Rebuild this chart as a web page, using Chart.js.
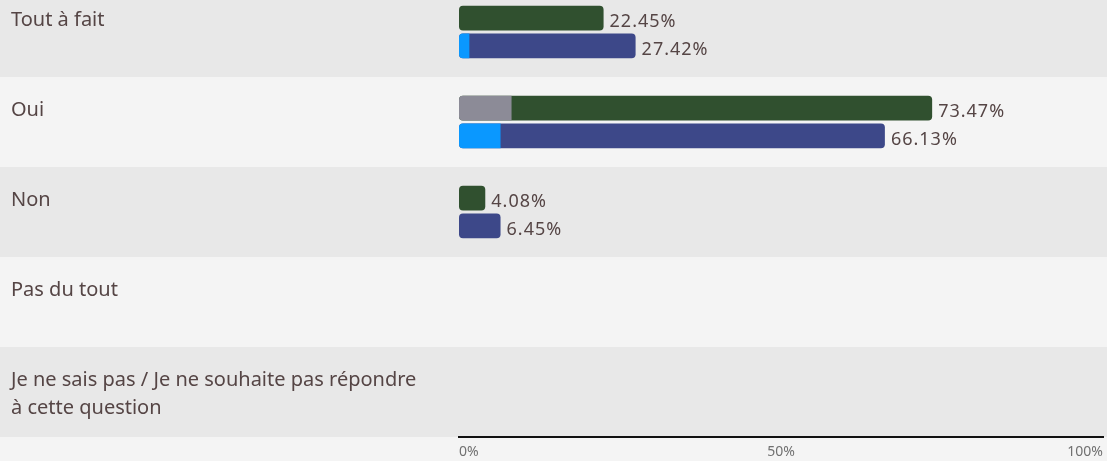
<!DOCTYPE html>
<html>
<head>
<meta charset="utf-8">
<script src="https://cdn.jsdelivr.net/npm/chart.js@4"></script>
<style>
  html, body { margin: 0; padding: 0; background: #f4f4f4; overflow: hidden; }
  #wrap { position: relative; width: 1107px; height: 474px; margin-top: -13px; }
</style>
</head>
<body>
<div id="wrap"><canvas id="chart" width="1107" height="474"></canvas></div>
<script>
const categories = [
  'Tout à fait',
  'Oui',
  'Non',
  'Pas du tout',
  ['Je ne sais pas / Je ne souhaite pas répondre', 'à cette question'],
];
// full share per answer, two groups
const greenValues = [22.45, 73.47, 4.08, 0, 0];
const blueValues = [27.42, 66.13, 6.45, 0, 0];
// lighter part shown at the start of each bar
const greenPart = [0, 8.16, 0, 0, 0];
const bluePart = [1.61, 6.45, 0, 0, 0];
const xTicks = [0, 50, 100];

const TEXT = '#554545';
const FONT = '"Noto Sans", sans-serif';
const partColors = ['#8c8b97', '#0a98ff'];
const partValues = [greenPart, bluePart];

function roundLeft(ctx, x0, y0, w, h, r) {
  ctx.beginPath();
  ctx.moveTo(x0 + r, y0);
  ctx.lineTo(x0 + w, y0);
  ctx.lineTo(x0 + w, y0 + h);
  ctx.lineTo(x0 + r, y0 + h);
  ctx.arcTo(x0, y0 + h, x0, y0 + h - r, r);
  ctx.lineTo(x0, y0 + r);
  ctx.arcTo(x0, y0, x0 + r, y0, r);
  ctx.closePath();
  ctx.fill();
}

const rowsPlugin = {
  id: 'rows',
  beforeDraw(chart) {
    const { ctx, scales: { y } } = chart;
    const step = y.height / categories.length;
    ctx.save();
    categories.forEach((_, i) => {
      const top = y.getPixelForValue(i) - step / 2;
      ctx.fillStyle = i % 2 === 0 ? '#e8e8e8' : '#f4f4f4';
      ctx.fillRect(0, top, chart.width, step);
    });
    ctx.restore();
  },
  afterDatasetsDraw(chart) {
    const { ctx, scales: { x } } = chart;
    ctx.save();
    // lighter segment at the start of the bars
    [0, 1].forEach((di) => {
      chart.getDatasetMeta(di).data.forEach((bar, i) => {
        const v = partValues[di][i];
        if (!v) return;
        const x0 = x.getPixelForValue(0);
        const x1 = x.getPixelForValue(v);
        ctx.fillStyle = partColors[di];
        roundLeft(ctx, x0, bar.y - bar.height / 2, x1 - x0, bar.height, 4);
      });
    });
    ctx.restore();
  },
  afterDraw(chart) {
    const { ctx, scales: { x, y } } = chart;
    const step = y.height / categories.length;
    ctx.save();
    // category labels, top-left of each row
    ctx.font = '20px ' + FONT;
    ctx.fillStyle = TEXT;
    ctx.textBaseline = 'top';
    ctx.textAlign = 'left';
    categories.forEach((c, i) => {
      const top = y.getPixelForValue(i) - step / 2;
      const lines = Array.isArray(c) ? c : [c];
      lines.forEach((l, j) => ctx.fillText(l, 11, top + 23 + j * 28));
    });
    // value labels after each bar
    ctx.font = '18px ' + FONT;
    ctx.letterSpacing = '1px';
    ctx.textBaseline = 'middle';
    [0, 1].forEach((di) => {
      const ds = chart.data.datasets[di];
      chart.getDatasetMeta(di).data.forEach((bar, i) => {
        const v = ds.data[i];
        if (!v) return;
        ctx.fillText(v.toFixed(2) + '%', bar.x + 6, bar.y + 4);
      });
    });
    ctx.letterSpacing = '0px';
    // x-axis tick labels
    ctx.font = '14px ' + FONT;
    ctx.fillStyle = '#707070';
    ctx.textBaseline = 'top';
    xTicks.forEach((t, i) => {
      ctx.textAlign = i === 0 ? 'left' : i === xTicks.length - 1 ? 'right' : 'center';
      ctx.fillText(t + '%', x.getPixelForValue(t), y.bottom + 8);
    });
    ctx.restore();
  },
};

new Chart(document.getElementById('chart').getContext('2d'), {
  type: 'bar',
  data: {
    labels: categories,
    datasets: [
      {
        label: 'Groupe 1',
        data: greenValues,
        backgroundColor: '#30502f',
        borderRadius: 4,
        borderSkipped: false,
      },
      {
        label: 'Groupe 2',
        data: blueValues,
        backgroundColor: '#3d4889',
        borderRadius: 4,
        borderSkipped: false,
      },
    ],
  },
  options: {
    indexAxis: 'y',
    responsive: false,
    animation: false,
    datasets: {
      bar: { categoryPercentage: 0.62, barPercentage: 0.89 },
    },
    layout: { padding: { left: 459, right: 4, top: 0, bottom: 16 } },
    plugins: { legend: { display: false }, tooltip: { enabled: false } },
    scales: {
      x: {
        min: 0,
        max: 100,
        grid: { display: false },
        ticks: { display: false },
        border: { display: true, color: '#111', width: 2 },
      },
      y: { display: false, offset: true },
    },
  },
  plugins: [rowsPlugin],
});
</script>
</body>
</html>
